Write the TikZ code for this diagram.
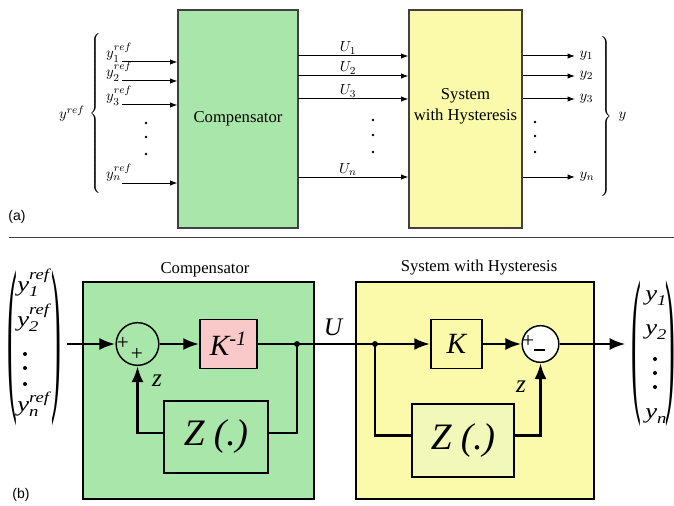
\documentclass[tikz,border=0pt]{standalone}
\usepackage[no-math]{fontspec}
\setmainfont{Liberation Serif}
\newfontfamily\panelfont{Liberation Sans}
\usepackage{amsmath}
\usepackage{graphicx}
\usepackage{tikz}
\usetikzlibrary{arrows.meta,positioning}
\usepackage{xcolor}
\definecolor{compGreen}{HTML}{A9E6A9}
\definecolor{sysYellow}{HTML}{FAFAAA}
\definecolor{gainPink}{HTML}{F9C9C9}
\definecolor{paleYellow}{HTML}{F1F8B9}
\definecolor{darkGray}{HTML}{404040}
\newcommand{\vecentry}[1]{\scalebox{1.25}[1]{$#1$}}
\tikzset{
    plainblock/.style={
        rectangle,
        draw=darkGray,
        line width=0.8pt,
        align=center,
        font=\rmfamily\fontsize{12.5}{15.5}\selectfont
    },
    bigblock/.style={
        rectangle,
        draw=black,
        line width=1.6pt
    },
    gainblock/.style={
        rectangle,
        draw=black,
        line width=1.1pt,
        inner sep=0pt,
        font=\rmfamily\fontsize{22}{24}\selectfont\itshape
    },
    zblock/.style={
        rectangle,
        draw=black,
        line width=1.1pt,
        inner sep=0pt,
        font=\rmfamily\fontsize{28}{30}\selectfont\itshape
    },
    sumnode/.style={
        circle,
        draw=black,
        line width=1.1pt,
        inner sep=0pt
    },
    signal/.style={line width=2.2pt},
    bigarrow/.style={-{Latex[length=12pt,width=9pt]},line width=2.2pt},
    thinarrow/.style={-{Latex[length=5.5pt,width=4pt]},line width=0.75pt},
    mathlabel/.style={font=\fontsize{11}{13}\selectfont,inner sep=1pt},
    siglabel/.style={font=\rmfamily\fontsize{19}{21}\selectfont\itshape,inner sep=0pt},
    signlabel/.style={font=\rmfamily\fontsize{16}{16}\selectfont,inner sep=0pt},
    entry/.style={font=\rmfamily\fontsize{16}{19}\selectfont,inner sep=0pt},
    parens/.style={font=\rmfamily\fontsize{22}{24}\selectfont,inner sep=0pt},
    panellabel/.style={font=\panelfont\fontsize{10.5}{12}\selectfont,inner sep=0pt}
}

\begin{document}
\begin{tikzpicture}[x=0.75pt,y=-0.75pt]
    \useasboundingbox (0,0) rectangle (674,506);

    \node[plainblock, fill=compGreen, minimum width=90pt, minimum height=163.5pt]
        (compA) at (238,119) {Compensator};
    \node[plainblock, fill=sysYellow, minimum width=84.75pt, minimum height=163.5pt]
        (sysA) at (465.5,119) {System\\with Hysteresis\\[6pt]};

    \foreach \n/\yy/\lab in {1/62/1,2/81/2,3/105/3,4/183/n}{
        \coordinate (in\n) at (122,\yy);
        \draw[thinarrow] (in\n) -- (in\n -| compA.west);
        \node[mathlabel, anchor=base] (yref\n) at (119,\yy-4) {$y_{\lab}^{ref}$};
    }
    \foreach \n/\yy/\lab in {1/56/1,2/76/2,3/99/3,4/177/n}{
        \coordinate (u\n) at (298,\yy);
        \draw[thinarrow] (u\n) -- (u\n -| sysA.west);
        \node[mathlabel, anchor=base] (ulab\n) at (348,\yy-4) {$U_{\lab}$};
        \coordinate (out\n) at (575,\yy);
        \draw[thinarrow] (out\n -| sysA.east) -- (out\n);
        \node[mathlabel, anchor=west] (ylab\n) at (578,\yy) {$y_{\lab}$};
    }
    \foreach \x/\ya/\yb/\yc in {146/123/137/154,373/120/135/152,535/122/136/152}{
        \fill (\x,\ya) circle (1.1pt);
        \fill (\x,\yb) circle (1.1pt);
        \fill (\x,\yc) circle (1.1pt);
    }

    \node[inner sep=0pt] (refbrace) at (96,114)
        {$\left\{\vrule height 58pt depth 58pt width 0pt\right.$};
    \node[mathlabel, left=2pt of refbrace] (yreflab) {$y^{ref}$};
    \node[inner sep=0pt] (outbrace) at (606,117)
        {$\left.\vrule height 58pt depth 58pt width 0pt\right\}$};
    \node[mathlabel, right=3pt of outbrace] (youtlab) {$y$};

    \node[panellabel] (panela) at (17,217) {(a)};
    \draw[darkGray, line width=0.8pt] (9,237.5) -- (674,237.5);
    \node[panellabel] (panelb) at (21,495) {(b)};

    \node[bigblock, fill=compGreen, minimum width=173pt, minimum height=163pt]
        (compB) at (198.5,390.5) {};
    \node[bigblock, fill=sysYellow, minimum width=178.5pt, minimum height=163pt]
        (sysB) at (475,390.5) {};
    \node[plainblock, draw=none, inner sep=0pt] (compBtitle) at (205,270) {Compensator};
    \node[plainblock, draw=none, inner sep=0pt] (sysBtitle) at (479,268) {System with Hysteresis};

    \node[sumnode, minimum size=32pt] (sum1) at (137.5,344) {};
    \node[gainblock, fill=gainPink, minimum width=42.75pt, minimum height=36.75pt]
        (kinv) at (228.5,344) {K\textsuperscript{-1}};
    \node[zblock, fill=compGreen, minimum width=78pt, minimum height=54pt]
        (zleft) at (216,437) {Z (.)};
    \node[gainblock, fill=sysYellow, minimum width=38.25pt, minimum height=36.75pt]
        (kbox) at (456.5,344) {K};
    \node[sumnode, fill=white, minimum size=27.5pt] (sum2) at (540.5,344) {};
    \node[zblock, fill=paleYellow, minimum width=76.5pt, minimum height=54.75pt]
        (zright) at (463,440.5) {Z (.)};

    \node[signlabel] (plus11) at ([xshift=-11pt,yshift=0.5pt]sum1.center) {+};
    \node[signlabel] (plus12) at ([xshift=-0.5pt,yshift=-8pt]sum1.center) {+};
    \node[signlabel] (plus21) at ([xshift=-9.3pt,yshift=2.2pt]sum2.center) {+};
    \node[signlabel] (minus22) at ([xshift=-0.7pt,yshift=-4.5pt]sum2.center) {\rule{8pt}{2pt}};

    \node[parens] (refvec) at (34.5,348.5)
        {\scalebox{1}[5.85]{(}\hspace{26pt}\scalebox{1}[5.85]{)}};
    \node[entry, anchor=base west] (vr1) at (17,291)
        {\vecentry{\textit{y}_{\textit{1}}^{\textit{ref}}}};
    \node[entry, anchor=base west] (vr2) at (17,326)
        {\vecentry{\textit{y}_{\textit{2}}^{\textit{ref}}}};
    \node[entry, anchor=base west] (vrn) at (17,411)
        {\vecentry{\textit{y}_{\textit{n}}^{\textit{ref}}}};
    \node[parens] (outvec) at (653,354)
        {\scalebox{1}[5.5]{(}\hspace{18pt}\scalebox{1}[5.5]{)}};
    \node[entry, anchor=base west] (vo1) at (645,300) {\vecentry{\textit{y}_{\textit{1}}}};
    \node[entry, anchor=base west] (vo2) at (645,334) {\vecentry{\textit{y}_{\textit{2}}}};
    \node[entry, anchor=base west] (von) at (645,418) {\vecentry{\textit{y}_{\textit{n}}}};
    \foreach \x/\ya/\yb/\yc in {25/354/368/384,655/359/373/387}{
        \fill (\x,\ya) circle (1.5pt);
        \fill (\x,\yb) circle (1.5pt);
        \fill (\x,\yc) circle (1.5pt);
    }

    \coordinate (j1) at (297,344);
    \coordinate (j2) at (375,344);
    \draw[bigarrow, shorten <=4pt] (refvec.east |- sum1.west) -- (sum1.west);
    \draw[bigarrow] (sum1) -- (kinv);
    \draw[signal] (kinv) -- (j2);
    \draw[bigarrow] (j2) -- (kbox);
    \draw[bigarrow] (kbox) -- (sum2);
    \draw[bigarrow, shorten >=4pt] (sum2) -- (outvec.west |- sum2.east);
    \draw[signal] (j1) |- ([yshift=3pt]zleft.east);
    \draw[bigarrow] ([yshift=3pt]zleft.west) -| (sum1.south);
    \draw[signal] (j2) |- ([yshift=4pt]zright.west);
    \draw[bigarrow] ([yshift=4pt]zright.east) -| (sum2.south);
    \fill (j1) circle (2.2pt);
    \fill (j2) circle (2.2pt);

    \node[siglabel] (ulab) at (333,327) {U};
    \node[siglabel] (zlab1) at (157,381) {z};
    \node[siglabel] (zlab2) at (521,387) {z};
\end{tikzpicture}
\end{document}
